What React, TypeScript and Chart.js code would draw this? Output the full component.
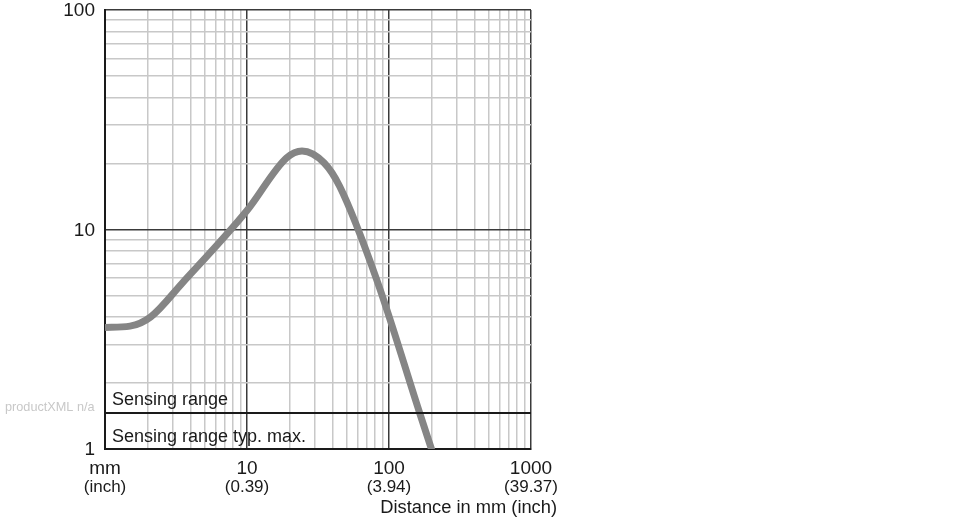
import React, { useEffect, useRef } from "react";
import { Chart, registerables } from "chart.js";

Chart.register(...registerables);

const curveX = [1, 1.5, 2.1, 3.5, 10, 19, 24.4, 35, 45, 82, 165, 200];
const curveY = [3.58, 3.63, 4.0, 5.7, 12.2, 21.2, 22.8, 20.1, 15.7, 5.9, 1.45, 0.99];
const thresholdValue = 1.46;
const thresholdX = [1, 1000];
const yTicks = [1, 10, 100];
const xTicks = [1, 10, 100, 1000];
const xTickMain = ["mm", "10", "100", "1000"];
const xTickSub = ["(inch)", "(0.39)", "(3.94)", "(39.37)"];
const labelAbove = "Sensing range";
const labelBelow = "Sensing range typ. max.";
const axisTitle = "Distance in mm (inch)";
const sideNote = "productXML n/a";

const FONT = "'Liberation Sans', Arial, sans-serif";

function allLogTicks(min: number, max: number) {
  const out: { value: number }[] = [];
  for (let d = min; d < max; d *= 10) {
    for (let m = 1; m < 10; m++) out.push({ value: d * m });
  }
  out.push({ value: max });
  return out;
}

function isDecade(v: number) {
  const l = Math.log10(v);
  return Math.abs(l - Math.round(l)) < 1e-6;
}

const labelsPlugin = {
  id: "customLabels",
  afterDraw(chart: any) {
    const ctx = chart.ctx;
    const xs = chart.scales.x;
    const ys = chart.scales.y;
    const area = chart.chartArea;
    ctx.save();
    ctx.fillStyle = "#1a1a1a";
    ctx.font = `19px ${FONT}`;
    ctx.textAlign = "right";
    ctx.textBaseline = "middle";
    yTicks.forEach((v) => {
      ctx.fillText(String(v), area.left - 10, ys.getPixelForValue(v) + 1);
    });
    ctx.textAlign = "center";
    ctx.textBaseline = "alphabetic";
    xTicks.forEach((v, i) => {
      const px = xs.getPixelForValue(v);
      ctx.font = `19px ${FONT}`;
      ctx.fillText(xTickMain[i], px, area.bottom + 25);
      ctx.font = `17px ${FONT}`;
      ctx.fillText(xTickSub[i], px, area.bottom + 43);
    });
    ctx.font = `18.3px ${FONT}`;
    ctx.textAlign = "right";
    ctx.fillText(axisTitle, area.right + 26, area.bottom + 64);
    const ly = ys.getPixelForValue(thresholdValue);
    ctx.textAlign = "left";
    ctx.font = `18px ${FONT}`;
    ctx.fillText(labelAbove, area.left + 7, ly - 8);
    ctx.fillText(labelBelow, area.left + 7, area.bottom - 7);
    ctx.fillStyle = "#c8c8c8";
    ctx.font = `12.7px ${FONT}`;
    ctx.textAlign = "left";
    ctx.textBaseline = "middle";
    ctx.fillText(sideNote, 5, ly - 5);
    ctx.restore();
  },
};

export default function App() {
  const ref = useRef<HTMLCanvasElement>(null);
  useEffect(() => {
    if (!ref.current) return;
    const chart = new Chart(ref.current, {
      type: "line",
      data: {
        datasets: [
          {
            data: thresholdX.map((x) => ({ x, y: thresholdValue })),
            borderColor: "#1a1a1a",
            borderWidth: 2,
            pointRadius: 0,
            tension: 0,
          },
          {
            data: curveX.map((x, i) => ({ x, y: curveY[i] })),
            borderColor: "#858585",
            borderWidth: 7,
            pointRadius: 0,
            cubicInterpolationMode: "monotone",
            borderCapStyle: "butt",
          },
        ],
      },
      options: {
        animation: false,
        responsive: false,
        maintainAspectRatio: false,
        layout: { padding: { left: 0, right: 439, top: 10, bottom: 0 } },
        plugins: { legend: { display: false }, tooltip: { enabled: false } },
        scales: {
          x: {
            type: "logarithmic",
            min: 1,
            max: 1000,
            afterBuildTicks: (s: any) => {
              s.ticks = allLogTicks(1, 1000);
            },
            afterFit: (s: any) => {
              s.height = 71;
            },
            ticks: { display: false },
            border: { display: true, color: "#1a1a1a", width: 2 },
            grid: {
              drawTicks: false,
              color: (c: any) => (isDecade(c.tick.value) ? "#3a3a3a" : "#c8c8c8"),
              lineWidth: 1.5,
            },
          },
          y: {
            type: "logarithmic",
            min: 1,
            max: 100,
            afterBuildTicks: (s: any) => {
              s.ticks = allLogTicks(1, 100);
            },
            afterFit: (s: any) => {
              s.width = 105;
            },
            ticks: { display: false },
            border: { display: true, color: "#1a1a1a", width: 2 },
            grid: {
              drawTicks: false,
              color: (c: any) => (isDecade(c.tick.value) ? "#3a3a3a" : "#c8c8c8"),
              lineWidth: 1.5,
            },
          },
        },
      },
      plugins: [labelsPlugin],
    } as any);
    return () => chart.destroy();
  }, []);
  return (
    <div style={{ position: "fixed", left: 0, top: 0, width: 970, height: 520, background: "#fff" }}>
      <canvas ref={ref} width={970} height={520} style={{ width: 970, height: 520, display: "block" }} />
    </div>
  );
}
